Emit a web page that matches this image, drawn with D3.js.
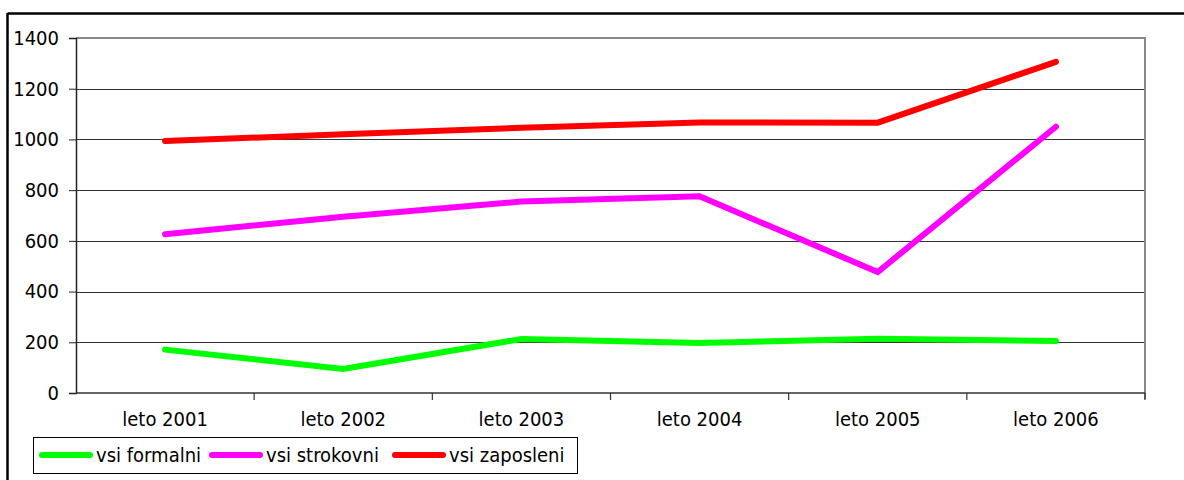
<!DOCTYPE html>
<html>
<head>
<meta charset="utf-8">
<script src="https://cdn.jsdelivr.net/npm/d3@7"></script>
<style>
  body { margin: 0; background: #fff; }
  svg { display: block; font-family: 'DejaVu Sans Condensed', 'DejaVu Sans', sans-serif; font-stretch: condensed; }
</style>
</head>
<body>
<svg width="1184" height="480"></svg>
<script>
// data
const years = ['leto 2001', 'leto 2002', 'leto 2003', 'leto 2004', 'leto 2005', 'leto 2006']
const formalni = [171, 95, 213, 197, 214, 205]
const strokovni = [626, 695, 755, 776, 477, 1050]
const zaposleni = [994, 1020, 1046, 1067, 1066, 1306]
const yTicks = [0, 200, 400, 600, 800, 1000, 1200, 1400]

const series = [
  { name: 'vsi formalni', values: formalni, color: '#00ff00' },
  { name: 'vsi strokovni', values: strokovni, color: '#ff00ff' },
  { name: 'vsi zaposleni', values: zaposleni, color: '#ff0000' }
]

const font = "'DejaVu Sans Condensed', 'DejaVu Sans', sans-serif"
const fontSize = 20

const svg = d3.select('svg')

// outer frame (top + left visible)
svg.append('line').attr('x1', 7.5).attr('x2', 1184).attr('y1', 13.5).attr('y2', 13.5)
  .attr('stroke', '#000').attr('stroke-width', 2.5)
svg.append('line').attr('x1', 7.5).attr('x2', 7.5).attr('y1', 13).attr('y2', 480)
  .attr('stroke', '#000').attr('stroke-width', 2.5)

const plotL = 76, plotR = 1145, plotT = 38, plotB = 393

const x = d3.scaleBand().domain(years).range([plotL, plotR])
const y = d3.scaleLinear().domain([0, 1400]).range([plotB, plotT])

// gridlines
svg.append('g')
  .selectAll('line')
  .data(yTicks.filter(t => t > 0 && t < 1400))
  .enter().append('line')
    .attr('x1', plotL).attr('x2', plotR)
    .attr('y1', d => Math.round(y(d)) + 0.5).attr('y2', d => Math.round(y(d)) + 0.5)
    .attr('stroke', '#333').attr('stroke-width', 1)

// plot border top / right
svg.append('line').attr('x1', plotL).attr('x2', plotR).attr('y1', y(1400)).attr('y2', y(1400))
  .attr('stroke', '#888').attr('stroke-width', 2)
svg.append('line').attr('x1', plotR).attr('x2', plotR).attr('y1', y(1400) - 1).attr('y2', plotB + 6)
  .attr('stroke', '#888').attr('stroke-width', 2)

// y axis
const yAxis = svg.append('g')
  .attr('transform', 'translate(' + plotL + ',0)')
  .call(d3.axisLeft(y).tickValues(yTicks).tickSize(7).tickPadding(10).tickFormat(d3.format('d')))
yAxis.select('.domain').attr('stroke', '#222').attr('stroke-width', 1.5)
yAxis.selectAll('.tick line').attr('stroke', '#222')
yAxis.selectAll('text').attr('font-size', fontSize).attr('fill', '#000').attr('font-family', font)

// x axis: ticks at band boundaries
const xAxis = svg.append('g')
  .attr('transform', 'translate(0,' + plotB + ')')
  .call(d3.axisBottom(x).tickSize(0).tickPadding(19))
xAxis.select('.domain').remove()
xAxis.selectAll('text').attr('font-size', fontSize).attr('fill', '#000').attr('font-family', font)
svg.append('line').attr('x1', plotL).attr('x2', plotR).attr('y1', plotB).attr('y2', plotB)
  .attr('stroke', '#333').attr('stroke-width', 1.5)
svg.append('g')
  .selectAll('line')
  .data(years.slice(1).concat(['end']))
  .enter().append('line')
    .attr('x1', d => d === 'end' ? plotR : x(d))
    .attr('x2', d => d === 'end' ? plotR : x(d))
    .attr('y1', plotB).attr('y2', plotB + 7)
    .attr('stroke', '#333').attr('stroke-width', 1.2)

// lines
const line = d3.line()
  .x((d, i) => x(years[i]) + x.bandwidth() / 2)
  .y(d => y(d))

svg.append('g')
  .selectAll('path')
  .data(series)
  .enter().append('path')
    .attr('d', d => line(d.values))
    .attr('fill', 'none')
    .attr('stroke', d => d.color)
    .attr('stroke-width', 6)
    .attr('stroke-linecap', 'round')
    .attr('stroke-linejoin', 'miter')

// legend
const legend = svg.append('g')
legend.append('rect')
  .attr('x', 33.5).attr('y', 437.5).attr('width', 544).attr('height', 36)
  .attr('fill', '#fff').attr('stroke', '#000').attr('stroke-width', 1)

const legendX = [40, 210, 393]
const legendItems = legend.selectAll('g.item')
  .data(series)
  .enter().append('g')
    .attr('class', 'item')
    .attr('transform', (d, i) => 'translate(' + legendX[i] + ',455)')

legendItems.append('line')
  .attr('x1', 2).attr('x2', 50)
  .attr('stroke', d => d.color).attr('stroke-width', 6).attr('stroke-linecap', 'round')
legendItems.append('text')
  .attr('x', 56).attr('dy', '0.35em')
  .attr('font-size', fontSize)
  .attr('font-family', font)
  .text(d => d.name)
</script>
</body>
</html>
